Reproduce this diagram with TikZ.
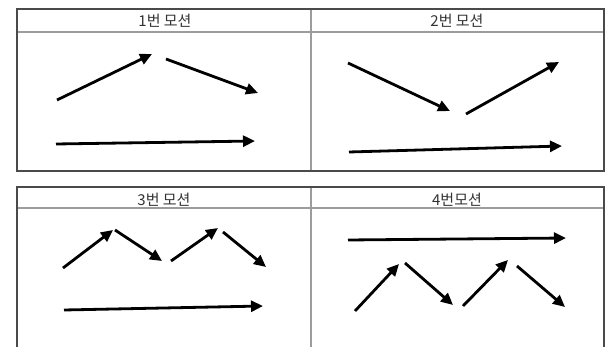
\documentclass[tikz,border=0pt]{standalone}
\usepackage{fontspec}
\newfontfamily\kofont{Noto Sans CJK KR}
\usetikzlibrary{arrows.meta}
\definecolor{tblFrame}{HTML}{4A4A4A}
\definecolor{tblRule}{HTML}{9C9C9C}
\tikzset{
  motionArrow/.style={-{Triangle[length=12pt,width=11pt]}, line width=2.8pt, draw=black},
  tblOuter/.style={draw=tblFrame, line width=1.4pt},
  tblInner/.style={draw=tblRule, line width=1.2pt},
  tblHead/.style={font=\kofont\fontsize{15}{17}\selectfont, inner sep=0pt, text=black!80}
}
\begin{document}
\begin{tikzpicture}[x=1pt, y=-1pt]
  \useasboundingbox (0,0) rectangle (606,347);

  % upper table
  \draw[tblInner] (17,32) -- (604,32);
  \draw[tblInner] (311,9) -- (311,171);
  \draw[tblOuter] (17,9) rectangle (604,171);
  % lower table, open at the bottom
  \draw[tblInner] (17,208) -- (604,208);
  \draw[tblInner] (311,187) -- (311,347);
  \draw[tblOuter] (17,347) -- (17,187) -- (604,187) -- (604,347);

  \node[tblHead] (head1) at (165,21) {1번 모션};
  \node[tblHead] (head2) at (457,21) {2번 모션};
  \node[tblHead] (head3) at (164,200) {3번 모션};
  \node[tblHead] (head4) at (457,200) {4번모션};

  % motions
  \foreach \n/\sx/\sy/\ex/\ey in {
      a/57/100/152/54, b/166/59/258/93, c/56/144/255/141,
      d/348/63/450/111, e/466/114/559/62, f/349/152/562/146,
      g/63/268/113/230, h/115/230/162/261, i/171/261/218/228, j/223/232/266/267, k/64/310/263/306,
      l/348/240/566/238, m/355/311/399/264, n/405/263/453/305, o/463/306/508/260, p/517/266/565/307} {
    \coordinate (\n Start) at (\sx,\sy);
    \coordinate (\n End) at (\ex,\ey);
    \draw[motionArrow] (\n Start) -- (\n End);
  }
\end{tikzpicture}
\end{document}
